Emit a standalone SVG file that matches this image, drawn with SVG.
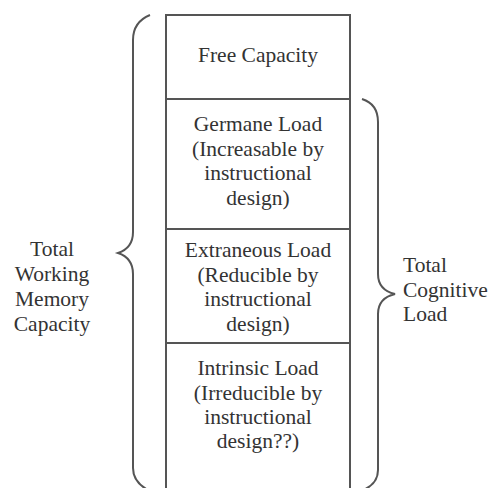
<svg xmlns="http://www.w3.org/2000/svg" width="491" height="488" viewBox="0 0 491 488">
<style>
text{font-family:"Liberation Serif","Times New Roman",serif;font-size:21.5px;fill:#333}
.c{text-anchor:middle}
.ln{stroke:#555;stroke-width:2;fill:none}
</style>
<rect width="491" height="488" fill="#fff"/>
<g id="connectors">
<path class="ln" d="M166,489 V15 H350 V489"/>
<path id="brace-left" class="ln" d="M150,15 Q133,22 133,40 V232 Q133,248 118,253 Q133,258 133,274 V468 Q133,482 148,490"/>
<path id="brace-right" class="ln" d="M362,99 Q378,104 378,122 V274 Q378,290 395,294 Q378,298 378,314 V470 Q378,484 363,490"/>
</g>
<g id="free-capacity">
<line class="ln" x1="166" y1="99" x2="350" y2="99"/>
<text class="c" x="258" y="62">Free Capacity</text>
</g>
<g id="germane-load">
<line class="ln" x1="166" y1="229" x2="350" y2="229"/>
<text class="c" x="258" y="131">Germane Load</text>
<text class="c" x="258" y="156">(Increasable by</text>
<text class="c" x="258" y="180">instructional</text>
<text class="c" x="258" y="205">design)</text>
</g>
<g id="extraneous-load">
<line class="ln" x1="166" y1="343" x2="350" y2="343"/>
<text class="c" x="258" y="257">Extraneous Load</text>
<text class="c" x="258" y="282">(Reducible by</text>
<text class="c" x="258" y="306">instructional</text>
<text class="c" x="258" y="331">design)</text>
</g>
<g id="intrinsic-load">
<text class="c" x="258" y="375">Intrinsic Load</text>
<text class="c" x="258" y="400">(Irreducible by</text>
<text class="c" x="258" y="424">instructional</text>
<text class="c" x="258" y="448">design??)</text>
</g>
<g id="total-working-memory">
<text class="c" x="52" y="256">Total</text>
<text class="c" x="52" y="281">Working</text>
<text class="c" x="52" y="306">Memory</text>
<text class="c" x="52" y="331">Capacity</text>
</g>
<g id="total-cognitive-load">
<text x="403" y="272">Total</text>
<text x="403" y="297">Cognitive</text>
<text x="403" y="321">Load</text>
</g>
</svg>
